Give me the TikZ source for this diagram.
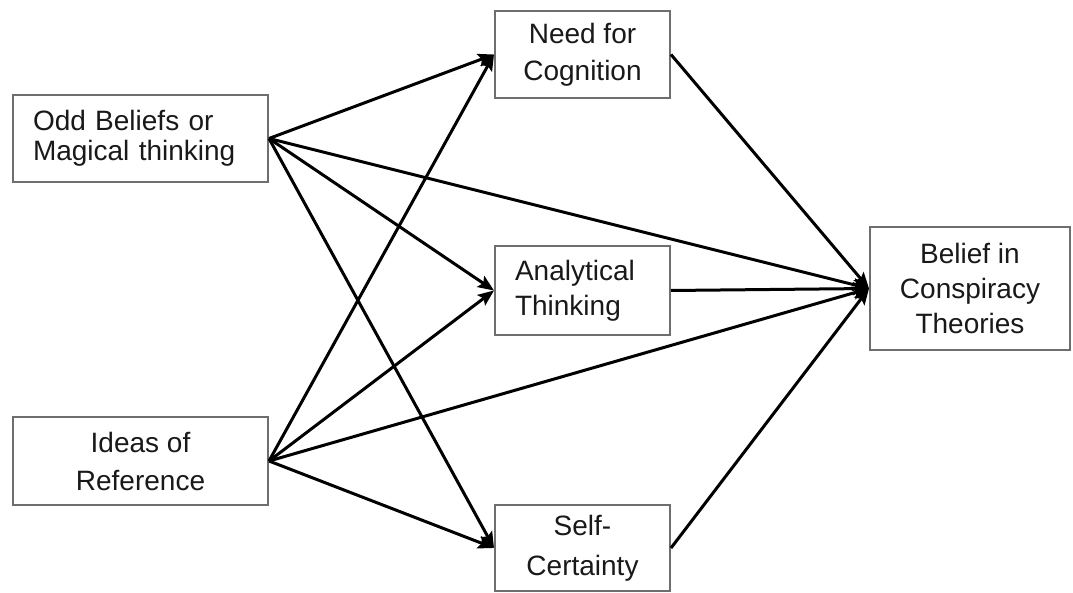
\documentclass[tikz,border=0pt]{standalone}
\usepackage{fontspec}
\setmainfont{Liberation Sans}
\usetikzlibrary{arrows.meta}
\definecolor{boxgray}{RGB}{110,110,110}
\definecolor{txt}{RGB}{25,25,25}
\tikzset{
  box/.style={draw=boxgray, line width=2pt, inner sep=0pt, text=txt, fill=white},
  arr/.style={-{Stealth[length=16pt,width=13pt,inset=3pt]}, line width=3pt, black},
}
\newcommand{\fs}[1]{\fontsize{28}{#1}\selectfont}
\begin{document}
\begin{tikzpicture}[x=1pt,y=-1pt]
\useasboundingbox[fill=white] (0,0) rectangle (1073,593);
\node[box, text width=215pt, inner xsep=20pt, align=left, minimum height=87pt, font=\fs{30}] (odd) at (140.5,138.5) {Odd Beliefs or\\Magical thinking};
\node[box, minimum width=255pt, minimum height=88pt, align=center, font=\fs{38}] (ideas) at (140.5,461) {Ideas of\\Reference};
\node[box, minimum width=175pt, minimum height=87pt, align=center, font=\fs{37}] (need) at (582.5,54.5) {Need for\\Cognition};
\node[box, text width=135pt, inner xsep=20pt, align=left, minimum height=89pt, font=\fs{35}] (anal) at (582.5,290.5) {Analytical\\Thinking};
\node[box, minimum width=175pt, minimum height=86pt, align=center, font=\fs{40}] (self) at (582.5,548) {Self-\\Certainty};
\node[box, minimum width=200pt, minimum height=123pt, align=center, font=\fs{35}] (belief) at (970,288.5) {Belief in\\Conspiracy\\Theories};
\foreach \s in {odd,ideas}{
  \foreach \t in {need,anal,self}{
    \draw[arr] (\s.east) -- (\t.west);
  }
  \draw[arr] (\s.east) -- (belief.west);
}
\foreach \s in {need,anal,self}{
  \draw[arr] (\s.east) -- (belief.west);
}
\end{tikzpicture}
\end{document}
